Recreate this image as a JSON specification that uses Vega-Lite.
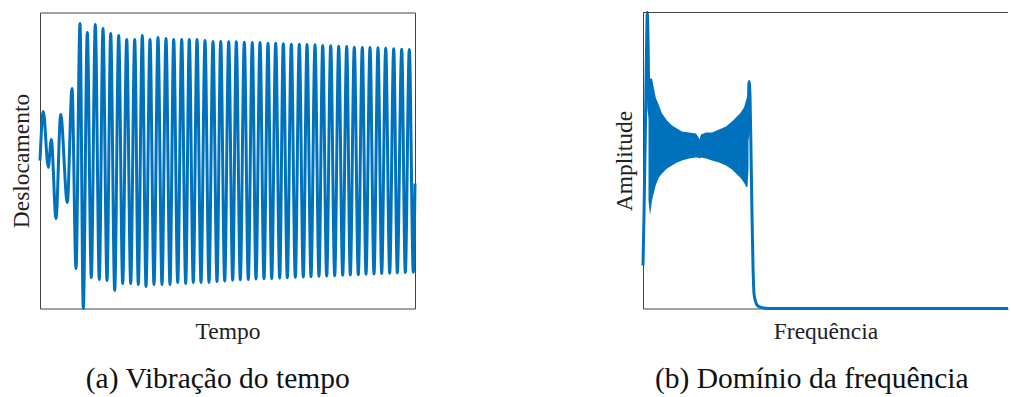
{
  "$schema": "https://vega.github.io/schema/vega-lite/v6.json",
  "background": "white",
  "padding": {"left": 8, "top": 10.5, "right": 0, "bottom": 0},
  "spacing": 195,
  "config": {
    "font": "Liberation Serif",
    "view": {"stroke": "#444444", "strokeWidth": 1},
    "axis": {
      "grid": false,
      "ticks": false,
      "labels": false,
      "domain": false,
      "titleFont": "Liberation Serif",
      "titleFontSize": 23.5,
      "titleFontWeight": "normal",
      "titleColor": "#222222"
    },
    "title": {
      "font": "Liberation Serif",
      "fontSize": 29.5,
      "fontWeight": "normal",
      "color": "#111111"
    }
  },
  "datasets": {
    "tempo": [
      {"t": 0, "d": 0}, {"t": 3.3, "d": 0.331}, {"t": 8.3, "d": -0.047}, {"t": 11.3, "d": 0.142},
      {"t": 16, "d": -0.392}, {"t": 20.7, "d": 0.311}, {"t": 27.3, "d": -0.284}, {"t": 32, "d": 0.486},
      {"t": 36, "d": -0.73}, {"t": 40, "d": 0.926}, {"t": 43.3, "d": -1.0}, {"t": 47.3, "d": 0.865},
      {"t": 51.3, "d": -0.791}, {"t": 55.3, "d": 0.919}, {"t": 59.3, "d": -0.804}, {"t": 63, "d": 0.892},
      {"t": 67, "d": -0.811}, {"t": 70.7, "d": 0.858}, {"t": 74.7, "d": -0.878}, {"t": 78.7, "d": 0.845},
      {"t": 82.7, "d": -0.831}, {"t": 86.7, "d": 0.818}, {"t": 90.7, "d": -0.831}, {"t": 94.7, "d": 0.818},
      {"t": 98.3, "d": -0.838}, {"t": 102.3, "d": 0.845}, {"t": 106, "d": -0.851}, {"t": 110, "d": 0.818},
      {"t": 114, "d": -0.838}, {"t": 118, "d": 0.831}, {"t": 122, "d": -0.838}, {"t": 126, "d": 0.824},
      {"t": 130, "d": -0.838}, {"t": 133.7, "d": 0.818}, {"t": 137.7, "d": -0.824}, {"t": 141.7, "d": 0.818},
      {"t": 145.7, "d": -0.831}, {"t": 149.3, "d": 0.818}, {"t": 153.3, "d": -0.824}, {"t": 157, "d": 0.818},
      {"t": 161, "d": -0.824}, {"t": 165, "d": 0.811}, {"t": 169, "d": -0.824}, {"t": 173, "d": 0.804},
      {"t": 177, "d": -0.818}, {"t": 180.7, "d": 0.804}, {"t": 184.7, "d": -0.815}, {"t": 188.7, "d": 0.802},
      {"t": 192.7, "d": -0.809}, {"t": 196.3, "d": 0.802}, {"t": 200.3, "d": -0.806}, {"t": 204.3, "d": 0.799},
      {"t": 208.3, "d": -0.804}, {"t": 212.3, "d": 0.797}, {"t": 216, "d": -0.801}, {"t": 220, "d": 0.797},
      {"t": 224, "d": -0.799}, {"t": 228, "d": 0.793}, {"t": 231.7, "d": -0.797}, {"t": 235.7, "d": 0.793},
      {"t": 239.7, "d": -0.795}, {"t": 243.3, "d": 0.789}, {"t": 247.3, "d": -0.792}, {"t": 251.3, "d": 0.786},
      {"t": 255.3, "d": -0.79}, {"t": 259.3, "d": 0.786}, {"t": 263.3, "d": -0.788}, {"t": 267, "d": 0.784},
      {"t": 271, "d": -0.785}, {"t": 275, "d": 0.782}, {"t": 279, "d": -0.782}, {"t": 282.7, "d": 0.777},
      {"t": 286.7, "d": -0.78}, {"t": 290.7, "d": 0.775}, {"t": 294.7, "d": -0.778}, {"t": 298.7, "d": 0.772},
      {"t": 302.7, "d": -0.776}, {"t": 306.7, "d": 0.77}, {"t": 310.3, "d": -0.774}, {"t": 314.3, "d": 0.766},
      {"t": 318.3, "d": -0.771}, {"t": 322.3, "d": 0.764}, {"t": 326, "d": -0.769}, {"t": 330, "d": 0.764},
      {"t": 334, "d": -0.766}, {"t": 338, "d": 0.761}, {"t": 341.7, "d": -0.764}, {"t": 345.7, "d": 0.759},
      {"t": 349.7, "d": -0.761}, {"t": 353.7, "d": 0.755}, {"t": 357.3, "d": -0.759}, {"t": 361.7, "d": 0.752},
      {"t": 365.3, "d": -0.757}, {"t": 369.3, "d": 0.75}, {"t": 373.3, "d": -0.755}, {"t": 375, "d": -0.155}
    ],
    "espectro": [
      {"f": 0, "a": 0.145}, {"f": 1, "a": 0.314}, {"f": 2.5, "a": 0.635}, {"f": 3.5, "a": 0.872},
      {"f": 4.3, "a": 1.0}, {"f": 5.2, "a": 0.872}, {"f": 6, "a": 0.669}, {"f": 16, "a": 0.564},
      {"f": 56, "a": 0.551}, {"f": 101, "a": 0.552}, {"f": 104.5, "a": 0.58}, {"f": 105.3, "a": 0.66},
      {"f": 106, "a": 0.767}, {"f": 107, "a": 0.72}, {"f": 108, "a": 0.534}, {"f": 109, "a": 0.314},
      {"f": 110, "a": 0.145}, {"f": 111, "a": 0.051}, {"f": 112.5, "a": 0.024}, {"f": 114.5, "a": 0.01},
      {"f": 119, "a": 0.003}, {"f": 131, "a": 0}, {"f": 365, "a": 0}
    ],
    "banda": [
      {"f": 5.5, "hi": 0.77, "lo": 0.365}, {"f": 7, "hi": 0.777, "lo": 0.314}, {"f": 9, "hi": 0.777, "lo": 0.365},
      {"f": 12.7, "hi": 0.713, "lo": 0.416}, {"f": 16, "hi": 0.686, "lo": 0.443}, {"f": 19, "hi": 0.659, "lo": 0.456},
      {"f": 24, "hi": 0.635, "lo": 0.473}, {"f": 29, "hi": 0.618, "lo": 0.483}, {"f": 34, "hi": 0.608, "lo": 0.493},
      {"f": 39, "hi": 0.598, "lo": 0.5}, {"f": 46, "hi": 0.595, "lo": 0.507}, {"f": 53, "hi": 0.591, "lo": 0.51},
      {"f": 55, "hi": 0.581, "lo": 0.51}, {"f": 56.5, "hi": 0.571, "lo": 0.507}, {"f": 58, "hi": 0.588, "lo": 0.51},
      {"f": 63, "hi": 0.595, "lo": 0.507}, {"f": 69, "hi": 0.595, "lo": 0.5}, {"f": 76, "hi": 0.605, "lo": 0.493},
      {"f": 83, "hi": 0.615, "lo": 0.483}, {"f": 89, "hi": 0.632, "lo": 0.47}, {"f": 93, "hi": 0.645, "lo": 0.456},
      {"f": 97, "hi": 0.659, "lo": 0.443}, {"f": 101, "hi": 0.679, "lo": 0.426}, {"f": 103, "hi": 0.703, "lo": 0.412},
      {"f": 104.5, "hi": 0.72, "lo": 0.409}, {"f": 105.5, "hi": 0.669, "lo": 0.473}
    ],
    "borda": [{"topo": 1}]
  },
  "hconcat": [
    {
      "width": 375,
      "height": 296,
      "title": {"text": "(a) Vibração do tempo", "orient": "bottom", "frame": "bounds", "baseline": "top", "offset": 22, "dx": 5},
      "data": {"name": "tempo"},
      "mark": {"type": "line", "interpolate": "monotone", "color": "#0072BD", "strokeWidth": 3, "strokeJoin": "round"},
      "encoding": {
        "x": {
          "field": "t", "type": "quantitative",
          "scale": {"domain": [0, 375], "nice": false, "zero": false},
          "axis": {"title": "Tempo", "titlePadding": 11}
        },
        "y": {
          "field": "d", "type": "quantitative",
          "scale": {"domain": [-1, 1], "nice": false},
          "axis": {"title": "Deslocamento", "titlePadding": 7}
        }
      }
    },
    {
      "width": 365,
      "height": 296,
      "view": {"stroke": null},
      "title": {"text": "(b) Domínio da frequência", "orient": "bottom", "frame": "bounds", "baseline": "top", "offset": 22, "dx": 1},
      "layer": [
        {
          "data": {"name": "banda"},
          "mark": {"type": "area", "color": "#0072BD", "opacity": 1},
          "encoding": {
            "x": {
              "field": "f", "type": "quantitative",
              "scale": {"domain": [0, 365], "nice": false, "zero": false},
              "axis": {"title": "Frequência", "titlePadding": 11, "domain": true, "domainColor": "#444444"}
            },
            "y": {
              "field": "hi", "type": "quantitative",
              "scale": {"domain": [0, 1], "nice": false},
              "axis": {"title": "Amplitude", "titlePadding": 7, "domain": true, "domainColor": "#444444"}
            },
            "y2": {"field": "lo"}
          }
        },
        {
          "data": {"name": "espectro"},
          "mark": {"type": "line", "interpolate": "monotone", "color": "#0072BD", "strokeWidth": 3, "strokeJoin": "round"},
          "encoding": {
            "x": {"field": "f", "type": "quantitative"},
            "y": {"field": "a", "type": "quantitative"}
          }
        },
        {
          "data": {"name": "borda"},
          "mark": {"type": "rule", "color": "#444444", "strokeWidth": 1},
          "encoding": {
            "y": {"field": "topo", "type": "quantitative"}
          }
        }
      ]
    }
  ]
}
